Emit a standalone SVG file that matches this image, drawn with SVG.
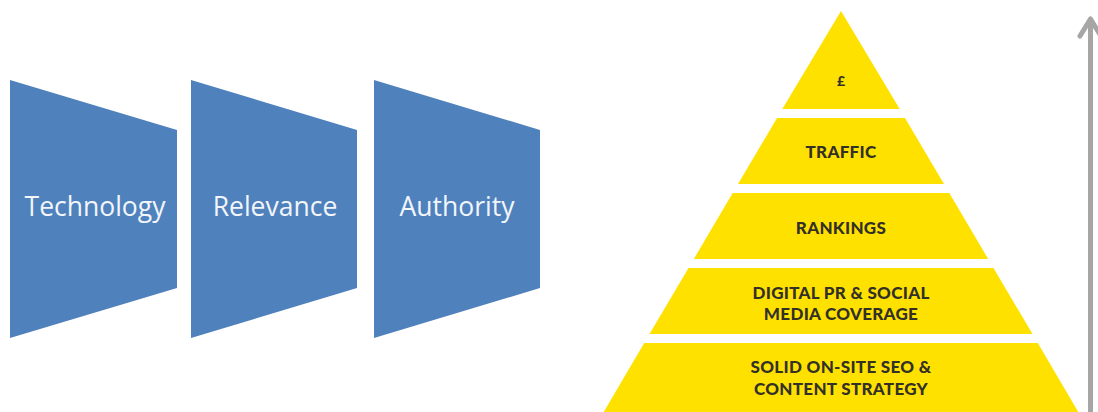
<svg xmlns="http://www.w3.org/2000/svg" width="1098" height="412" viewBox="0 0 1098 412">
  <style>
    .stage { fill: #4f81bd; }
    .stage-label { fill: #f2f5fa; font-family: "Open Sans", "Liberation Sans", sans-serif; font-size: 26.5px; text-anchor: middle; }
    .tier { fill: #ffe100; }
    .tier-label { fill: #333028; font-family: "Lato", "Liberation Sans", sans-serif; font-weight: 900; font-size: 17px; text-anchor: middle; letter-spacing: 0.3px; }
    .rise { stroke: #a6a6a6; stroke-width: 5; fill: none; }
  </style>
  <rect width="1098" height="412" fill="#ffffff"/>

  <!-- three funnel stages -->
  <g id="technology">
    <polygon class="stage" points="10,80 177,130 177,288 10,338"/>
    <text class="stage-label" x="95" y="216">Technology</text>
  </g>
  <g id="relevance">
    <polygon class="stage" points="191,80 357,130 357,288 191,338"/>
    <text class="stage-label" x="275" y="216">Relevance</text>
  </g>
  <g id="authority">
    <polygon class="stage" points="374,80 540,130 540,288 374,338"/>
    <text class="stage-label" x="457" y="216">Authority</text>
  </g>

  <!-- pyramid tiers, bottom to top -->
  <g id="tier-seo">
    <polygon class="tier" points="644.2,343 1037.8,343 1083,420 599,420"/>
    <text class="tier-label" x="841" y="373">SOLID ON-SITE SEO &amp;</text>
    <text class="tier-label" x="841" y="395">CONTENT STRATEGY</text>
  </g>
  <g id="tier-pr">
    <polygon class="tier" points="688.5,268 993.5,268 1032.5,334 649.5,334"/>
    <text class="tier-label" x="841" y="299">DIGITAL PR &amp; SOCIAL</text>
    <text class="tier-label" x="841" y="320">MEDIA COVERAGE</text>
  </g>
  <g id="tier-rankings">
    <polygon class="tier" points="732.7,193 949.3,193 988.2,259 693.8,259"/>
    <text class="tier-label" x="841" y="234">RANKINGS</text>
  </g>
  <g id="tier-traffic">
    <polygon class="tier" points="777,118 905,118 944,184 738,184"/>
    <text class="tier-label" x="841" y="158">TRAFFIC</text>
  </g>
  <g id="tier-revenue">
    <polygon class="tier" points="841,11 899.7,109 782.3,109"/>
    <text class="tier-label" x="841" y="86" style="font-size:14px;letter-spacing:0">£</text>
  </g>

  <!-- upward growth arrow -->
  <g id="connectors">
    <line class="rise" x1="1090.5" y1="420" x2="1090.5" y2="20"/>
    <polyline class="rise" points="1080,36 1090.5,19 1101,36" stroke-linecap="round" stroke-linejoin="round"/>
  </g>
</svg>
